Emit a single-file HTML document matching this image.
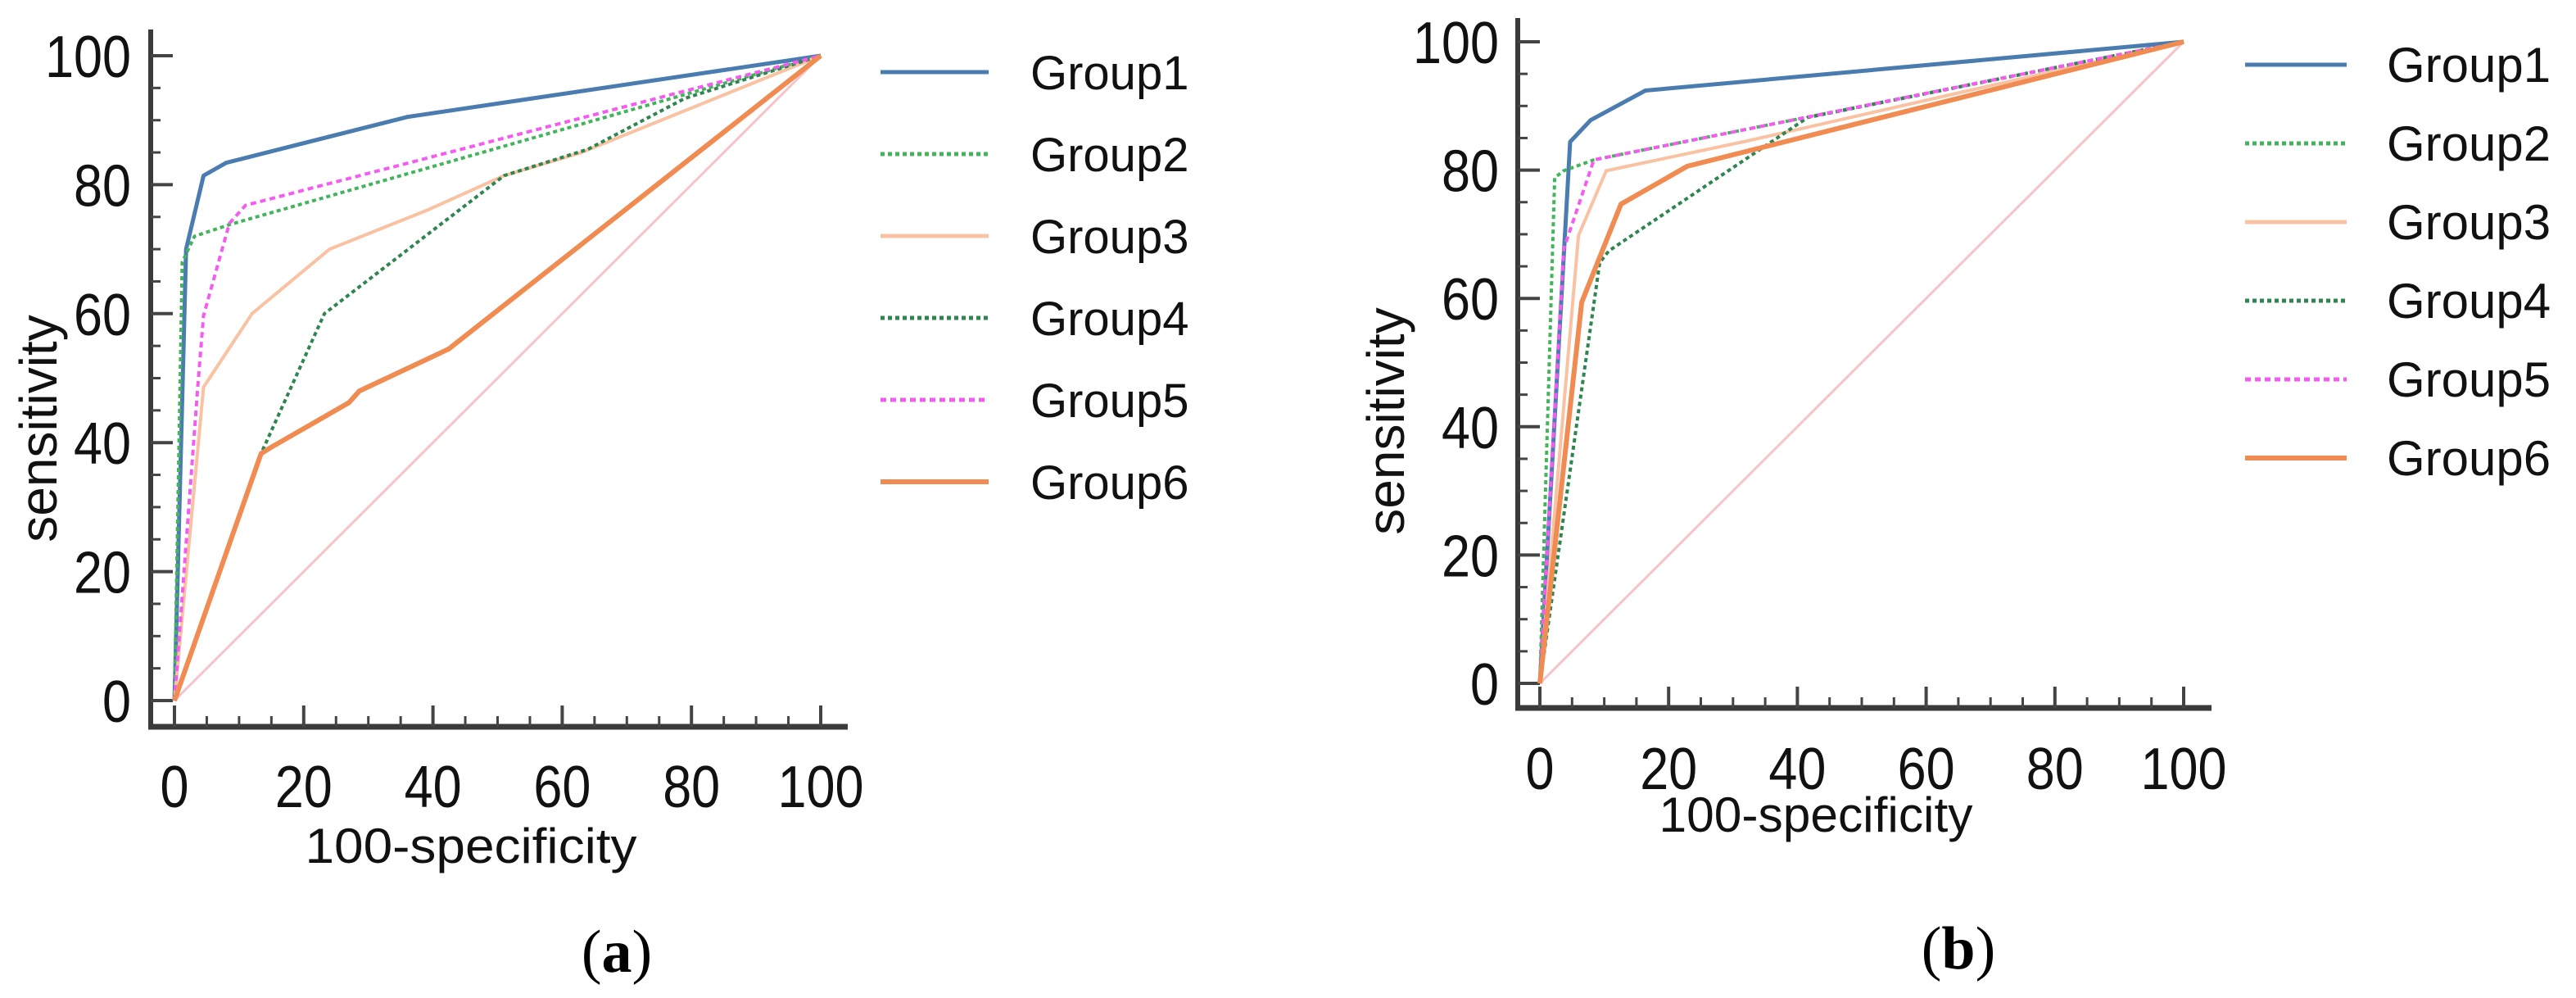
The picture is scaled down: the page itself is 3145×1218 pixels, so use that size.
<!DOCTYPE html>
<html><head><meta charset="utf-8"><style>
html,body{margin:0;padding:0;background:#fff;}
svg{display:block;font-family:"Liberation Sans",sans-serif;}
</style></head><body>
<svg id="fig" width="3145" height="1218" viewBox="0 0 3145 1218" xmlns="http://www.w3.org/2000/svg"></svg>
<script>
const groups = ["Group1","Group2","Group3","Group4","Group5","Group6"];
const ticks = [0,20,40,60,80,100];
// panel (a) series: [x(100-specificity), y(sensitivity)]
const a_g1 = [[0,0],[1.8,70],[4.5,81.4],[8,83.4],[36,90.5],[100,100]];
const a_g2 = [[0,0],[1.2,68],[3.1,72],[8.5,73.8],[100,100]];
const a_g3 = [[0,0],[4.5,48.6],[12,60],[24,70],[39,76],[51,81.4],[63,85],[100,100]];
const a_g4 = [[0,0],[13.4,38.3],[23.2,60],[51,81.4],[64,85.5],[79,93.4],[100,100]];
const a_g5 = [[0,0],[3.6,48.6],[4.5,59.7],[8.5,74],[11,76.8],[100,100]];
const a_g6 = [[0,0],[13.4,38.3],[15,39.3],[27,46.2],[28.6,48],[42.4,54.5],[100,100]];
// panel (b) series
const b_g1 = [[0,0],[4.7,84.4],[7.9,87.8],[16.4,92.4],[100,100]];
const b_g2 = [[0,0],[2.3,78.8],[3.7,79.9],[8.4,81.6],[100,100]];
const b_g3 = [[0,0],[6,69.8],[10.3,79.9],[32,84.5],[100,100]];
const b_g4 = [[0,0],[9.3,65.6],[10.7,67.4],[41.6,88.2],[100,100]];
const b_g5 = [[0,0],[3.7,67.7],[8.4,81.6],[100,100]];
const b_g6 = [[0,0],[6.5,59.4],[12.6,74.7],[22.9,80.6],[100,100]];
const refLine = [[0,0],[100,100]];

const NS="http://www.w3.org/2000/svg";
const svg=document.getElementById('fig');
function mk(tag,attrs,parent){const e=document.createElementNS(NS,tag);for(const k in attrs)e.setAttribute(k,attrs[k]);(parent||svg).appendChild(e);return e;}

const styles=[
 {stroke:"#4a7cb0",w:5,dash:null},
 {stroke:"#44b45c",w:4,dash:"5 4"},
 {stroke:"#f9c2a2",w:4,dash:null},
 {stroke:"#2f8550",w:4,dash:"5 4"},
 {stroke:"#f45cf0",w:4,dash:"7 5"},
 {stroke:"#f08c52",w:6,dash:null}
];

function panel(cfg){
 const g=mk('g',{});
 
 
 const X=v=>cfg.x0+(cfg.x1-cfg.x0)*v/100;
 const Y=v=>cfg.y0+(cfg.y1-cfg.y0)*v/100;
 const ref=mk('polyline',{points:refLine.map(p=>X(p[0])+','+Y(p[1])).join(' '),fill:'none',stroke:'#f6c4c8','stroke-width':3},g);
 
 
 const ax=mk('g',{},g);
 
 
 mk('line',{x1:cfg.ax,y1:cfg.axTop,x2:cfg.ax,y2:cfg.axY+3,stroke:'#3a3a3a','stroke-width':6},ax);
 mk('line',{x1:cfg.ax-3,y1:cfg.axY,x2:cfg.axEnd,y2:cfg.axY,stroke:'#3a3a3a','stroke-width':7},ax);
 for(let v=0;v<=100;v+=5){
  const major=v%20===0;
  const yy=Y(v);
  mk('line',{x1:cfg.ax,y1:yy,x2:cfg.ax+(major?27:12),y2:yy,stroke:'#444','stroke-width':major?4:3},ax);
  const xx=X(v);
  mk('line',{x1:xx,y1:cfg.axY,x2:xx,y2:cfg.axY-(major?26:13),stroke:'#444','stroke-width':major?4:3},ax);
 }
 ticks.forEach(t=>{
  const len=String(t).length*35;
  const ty=mk('text',{x:cfg.yLabRight,y:Y(t)+26,'text-anchor':'end','font-size':72,fill:'#111',textLength:len,lengthAdjust:'spacingAndGlyphs'},g);
  ty.textContent=t;
  
  
  const tx=mk('text',{x:X(t),y:cfg.xLabY+2,'text-anchor':'middle','font-size':72,fill:'#111',textLength:len,lengthAdjust:'spacingAndGlyphs'},g);
  tx.textContent=t;
  
  
 });
 const yt=mk('text',{x:0,y:0,'text-anchor':'middle','font-size':64,fill:'#111',transform:`translate(${cfg.ytx},${cfg.yty}) rotate(-90)`,'dominant-baseline':'central'},g);
 yt.textContent='sensitivity';
 
 
 const xt=mk('text',{x:cfg.xtx,y:cfg.xty,'text-anchor':'middle','font-size':60,fill:'#111',textLength:cfg.xtw,lengthAdjust:'spacingAndGlyphs'},g);
 xt.textContent='100-specificity';
 
 
 cfg.series.forEach((s,i)=>{
  const st=styles[i];
  const p=mk('polyline',{points:s.map(q=>X(q[0])+','+Y(q[1])).join(' '),fill:'none',stroke:st.stroke,'stroke-width':st.w,'stroke-linejoin':'round'},g);
  if(st.dash)p.setAttribute('stroke-dasharray',st.dash);
  
  
 });
 groups.forEach((n,i)=>{
  const st=styles[i];
  const ly=cfg.legY+i*cfg.legDy;
  const le=mk('g',{},g);
  
  
  const l=mk('line',{x1:cfg.legX,y1:ly,x2:cfg.legX+cfg.legW,y2:ly,stroke:st.stroke,'stroke-width':Math.max(st.w,5)},le);
  if(st.dash)l.setAttribute('stroke-dasharray',st.dash);
  const t=mk('text',{x:cfg.legTx,y:ly+21,'font-size':cfg.legF,fill:'#111'},le);
  t.textContent=n;
 });
 const lab=mk('text',{x:cfg.labX,y:cfg.labY,'text-anchor':'middle','font-size':74,'font-family':'"Liberation Serif",serif',fill:'#000'},g);
 lab.innerHTML='(<tspan font-weight="bold">'+cfg.lab+'</tspan>)';
 
 
}

panel({name:'panel-a',x0:213,x1:1002,y0:855,y1:68,ax:184,axTop:36,axY:887,axEnd:1035,
 yLabRight:160,xLabY:983,ytx:47,yty:523,xtx:575,xty:1053,xtw:405,
 series:[a_g1,a_g2,a_g3,a_g4,a_g5,a_g6],
 legX:1075,legW:132,legY:88,legDy:100,legTx:1258,legF:58,labX:753,labY:1186,lab:'a'});
panel({name:'panel-b',x0:1880,x1:2666,y0:834,y1:51,ax:1853,axTop:22,axY:864,axEnd:2700,
 yLabRight:1830,xLabY:961,ytx:1692,yty:514,xtx:2217,xty:1015,xtw:383,
 series:[b_g1,b_g2,b_g3,b_g4,b_g5,b_g6],
 legX:2741,legW:124,legY:79,legDy:96,legTx:2914,legF:60,labX:2391,labY:1182,lab:'b'});
</script>
</body></html>
